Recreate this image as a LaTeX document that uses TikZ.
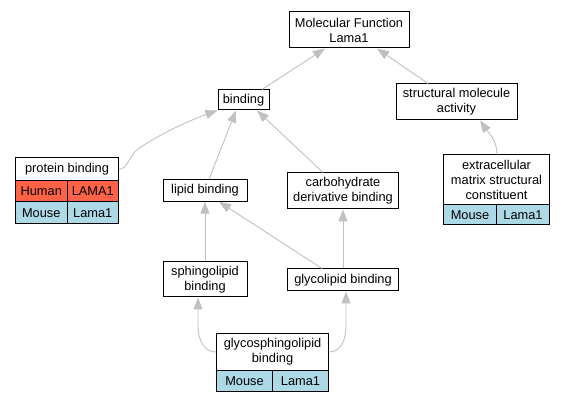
\documentclass[tikz,border=0pt]{standalone}
\usepackage{fontspec}
\setmainfont{Liberation Sans}
\usetikzlibrary{arrows.meta}

\definecolor{edgegray}{RGB}{192,192,192}
\definecolor{humanred}{RGB}{255,99,71}
\definecolor{mouseblue}{RGB}{173,216,230}

\tikzset{
  term/.style={draw, line width=1pt, fill=white, inner sep=0pt, align=center,
    font=\fontsize{12.8}{15}\selectfont},
  cell/.style={term, minimum height=21.5pt},
  isa/.style={draw=edgegray, line width=0.9pt, -{Triangle[length=12pt,width=9pt]}}
}

\begin{document}
\begin{tikzpicture}[x=1pt,y=-1pt]
  \useasboundingbox (0,0) rectangle (565,403);
  % Root and first level
  \node[term, minimum width=120pt, minimum height=36pt] (mf) at (349,30) {Molecular Function\\Lama1};
  \node[term, minimum width=51pt, minimum height=20pt] (bind) at (243.5,100) {binding};
  \node[term, minimum width=121pt, minimum height=36pt] (sma) at (456.5,102) {structural molecule\\activity};
  % protein binding with its genes
  \node[term, minimum width=103pt, minimum height=22.5pt] (pb) at (67,169.25) {protein binding};
  \node[cell, minimum width=51.5pt, fill=humanred] (pbh1) at (41.25,191.25) {Human};
  \node[cell, minimum width=51.5pt, fill=humanred] (pbh2) at (92.75,191.25) {LAMA1};
  \node[cell, minimum width=51.5pt, fill=mouseblue] (pbm1) at (41.25,212.75) {Mouse};
  \node[cell, minimum width=51.5pt, fill=mouseblue] (pbm2) at (92.75,212.75) {Lama1};
  % Binding terms
  \node[term, minimum width=84pt, minimum height=21.5pt] (lb) at (205,190.5) {lipid binding};
  \node[term, minimum width=111pt, minimum height=36pt] (cdb) at (343,191) {carbohydrate\\derivative binding};
  \node[term, minimum width=84pt, minimum height=35pt] (sb) at (205,279.5) {sphingolipid\\binding};
  \node[term, minimum width=111pt, minimum height=22pt] (gb) at (343,280) {glycolipid binding};
  % extracellular matrix structural constituent
  \node[term, minimum width=106pt, minimum height=50pt] (emsc) at (496.5,180) {extracellular\\matrix structural\\constituent};
  \node[cell, minimum width=53pt, minimum height=20pt, fill=mouseblue] (emscm1) at (470,215) {Mouse};
  \node[cell, minimum width=53pt, minimum height=20pt, fill=mouseblue] (emscm2) at (523,215) {Lama1};
  % glycosphingolipid binding
  \node[term, minimum width=111.5pt, minimum height=36pt] (gsb) at (272.5,352) {glycosphingolipid\\binding};
  \node[cell, minimum width=56pt, fill=mouseblue] (gsbm1) at (244.5,380.75) {Mouse};
  \node[cell, minimum width=56pt, fill=mouseblue] (gsbm2) at (300.5,380.75) {Lama1};
  % is_a edges
  \draw[isa] ([xshift=18.5pt]bind.north) -- ([xshift=-24pt]mf.south);
  \draw[isa] ([xshift=-28.5pt]sma.north) -- ([xshift=28pt]mf.south);
  \draw[isa] (pb.east) .. controls (128,169) and (128,157) .. (138,149)
    .. controls (155,137) and (185,122) .. (bind.south west);
  \draw[isa] ([xshift=4pt]lb.north) -- ([xshift=-7.5pt]bind.south);
  \draw[isa] ([xshift=-20pt]cdb.north) -- ([xshift=13.5pt]bind.south);
  \draw[isa] ([xshift=0.5pt]emsc.north) .. controls (497,140) and (488,132) .. ([xshift=23.5pt]sma.south);
  \draw[isa] (sb.north) -- (lb.south);
  \draw[isa] ([xshift=-21pt]gb.north) -- ([xshift=14pt]lb.south);
  \draw[isa] (gb.north) -- (cdb.south);
  \draw[isa] (gsb.west) .. controls (205,352) and (198,342) .. (198,325) -- ([xshift=-7pt]sb.south);
  \draw[isa] (gsb.east) .. controls (340,352) and (346,342) .. (346,325) -- ([xshift=3pt]gb.south);
\end{tikzpicture}
\end{document}
